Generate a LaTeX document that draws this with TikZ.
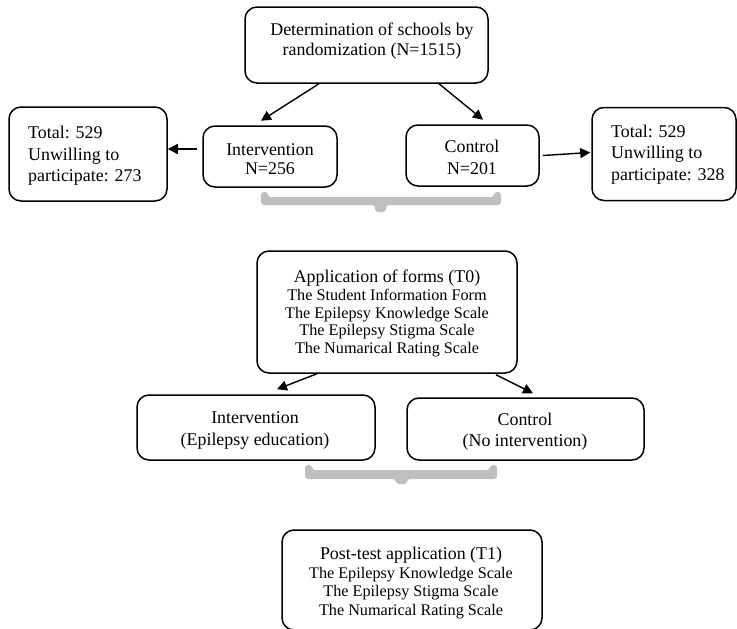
\documentclass[tikz,border=0pt]{standalone}
\usepackage{fontspec}
\setmainfont{Liberation Serif}
\usetikzlibrary{arrows.meta}
\definecolor{brk}{HTML}{BFBFBF}
\tikzset{
  box/.style={draw, line width=1.5pt, rounded corners=12pt, inner sep=0pt},
  arr/.style={line width=1.4pt, -{Triangle[length=10pt,width=10pt]}},
  txt/.style={align=center, inner sep=0pt},
  txtl/.style={align=left, inner sep=0pt, anchor=west},
  bigA/.style={font=\fontsize{17.9pt}{20pt}\selectfont},
  bigB/.style={font=\fontsize{17.9pt}{21.5pt}\selectfont},
  bigC/.style={font=\fontsize{17.9pt}{22pt}\selectfont},
  brace/.style={fill=brk, draw=none, rounded corners=3pt},
}
\begin{document}
\begin{tikzpicture}[x=1pt,y=-1pt]
\useasboundingbox (0,0) rectangle (737,629);

% boxes
\node[box, minimum width=243pt, minimum height=76pt] (top) at (366.5,45) {};
\node[box, minimum width=134pt, minimum height=61pt] (int1) at (270,156.5) {};
\node[box, minimum width=133pt, minimum height=61pt] (ctl1) at (472.5,155.5) {};
\node[box, minimum width=158pt, minimum height=94pt] (tot1) at (88,154) {};
\node[box, minimum width=144pt, minimum height=93pt] (tot2) at (664,154) {};
\node[box, minimum width=260pt, minimum height=122pt] (app) at (387,312) {};
\node[box, minimum width=238pt, minimum height=65pt] (int2) at (256,427.5) {};
\node[box, minimum width=237pt, minimum height=62pt] (ctl2) at (525.5,429) {};
\node[box, minimum width=260pt, minimum height=100pt] (post) at (412,580) {};

% texts
\node[txt, bigA] (topT) at (372,41.5) {Determination of schools by\\randomization (N=1515)};
\node[txt, font=\fontsize{17.9pt}{19pt}\selectfont] (int1T) at (270,159) {Intervention\\N=256};
\node[txt, bigB] (ctl1T) at (472,157.5) {Control\\N=201};
\node[txtl, bigB] (tot1T) at (28,156) {Total: 529\\Unwilling to\\participate: 273};
\node[txtl, bigB] (tot2T) at (611,154.5) {Total: 529\\Unwilling to\\participate: 328};
\node[txt, font=\fontsize{16.2pt}{17.6pt}\selectfont] (appT) at (387,313.5)
  {{\fontsize{17.9pt}{18pt}\selectfont Application of forms (T0)}\\The Student Information Form\\The Epilepsy Knowledge Scale\\The Epilepsy Stigma Scale\\The Numarical Rating Scale};
\node[txt, bigC] (int2T) at (255,430.5) {Intervention\\(Epilepsy education)};
\node[txt, font=\fontsize{17.9pt}{21pt}\selectfont] (ctl2T) at (525,431.5) {Control\\(No intervention)};
\node[txt, font=\fontsize{16.2pt}{18.7pt}\selectfont] (postT) at (411,583)
  {{\fontsize{17.9pt}{18pt}\selectfont Post-test application (T1)}\\The Epilepsy Knowledge Scale\\The Epilepsy Stigma Scale\\The Numarical Rating Scale};

% arrows
\draw[arr] ([xshift=-47.5pt]top.south) -- ([xshift=-9pt,yshift=4.5pt]int1.north);
\draw[arr] ([xshift=72.5pt]top.south) -- ([xshift=10.5pt,yshift=4.5pt]ctl1.north);
\draw[arr] ([xshift=-5pt,yshift=7.5pt]int1.west) -- ([yshift=5pt]tot1.east);
\draw[arr] ([xshift=3pt]ctl1.east) -- ([xshift=-1pt,yshift=1.5pt]tot2.west);
\draw[arr] ([xshift=-70pt]app.south) -- ([xshift=21pt,yshift=5pt]int2.north);
\draw[arr] ([xshift=109pt,yshift=-1pt]app.south) -- ([xshift=7.5pt,yshift=4pt]ctl2.north);

% brackets
\fill[brace] (261,192) -- (268,192) -- (268,197) -- (494,197) -- (494,192) -- (501,192)
  -- (501,205) -- (386,205) -- (386,212) -- (375,212) -- (375,205) -- (261,205) -- cycle;
\fill[brace] (305,465) -- (312,465) -- (312,470) -- (490,470) -- (490,465) -- (497,465)
  -- (497,479) -- (407,479) -- (407,484) -- (396,484) -- (396,479) -- (305,479) -- cycle;
\end{tikzpicture}
\end{document}
